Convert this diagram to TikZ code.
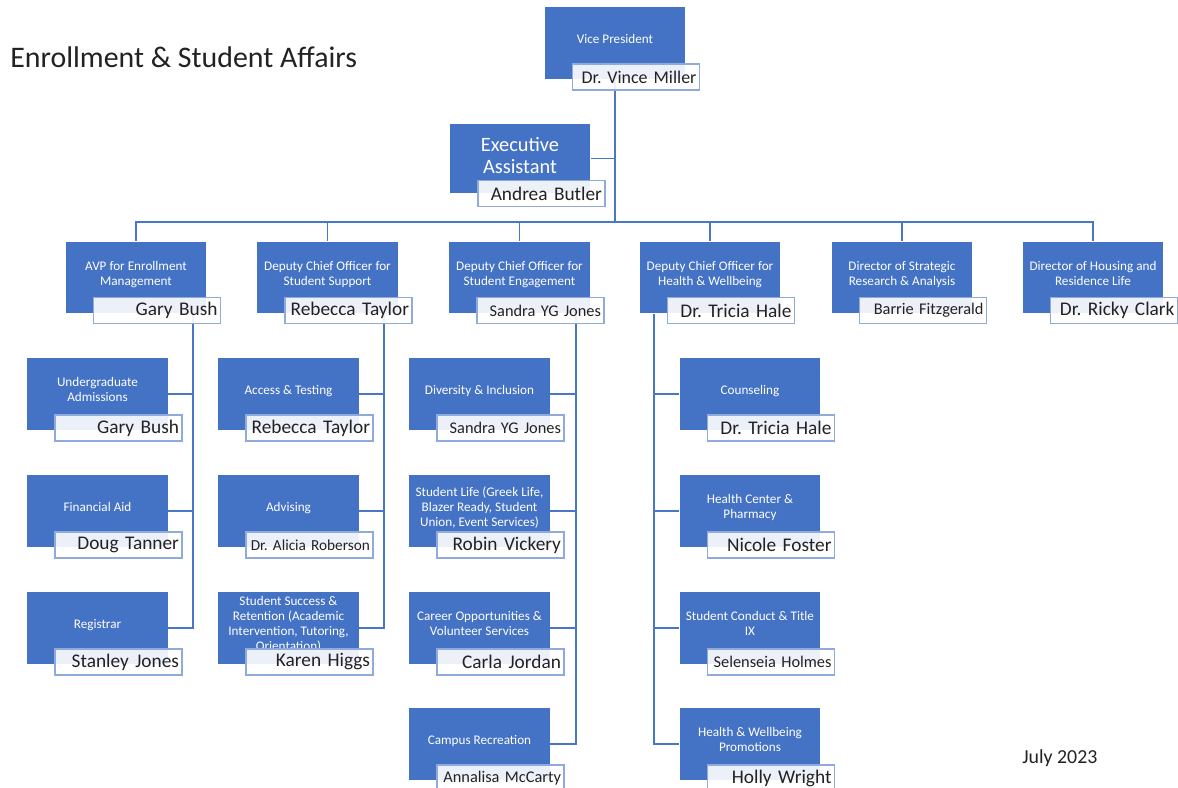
\documentclass[tikz,border=0pt]{standalone}
\usepackage{fontspec}
\setmainfont{Carlito}
\frenchspacing
\usetikzlibrary{positioning,calc,backgrounds}
\definecolor{unitblue}{HTML}{4472C4}
\definecolor{edgeblue}{HTML}{8FAADC}
\definecolor{lineblue}{HTML}{4A76C6}
\definecolor{inkgray}{HTML}{222222}

\begin{document}
\begin{tikzpicture}[x=0.02cm, y=-0.02cm,
    every node/.style = {inner sep=0pt},
    unit/.style = {fill=unitblue, text=white, minimum width=2.82cm, minimum height=1.44cm, align=center, font=\fontsize{7.5}{8.5}\selectfont, text depth=5pt},
    person/.style = {draw=edgeblue, line width=0.8pt, fill=white, fill opacity=0.9, text opacity=1, text=inkgray, minimum width=2.54cm, minimum height=0.52cm, text width=2.42cm, align=right, font=\fontsize{11}{12}\selectfont},
    smallname/.style = {font=\fontsize{9.3}{10}\selectfont},
    midname/.style = {font=\fontsize{10.2}{11}\selectfont},
    link/.style = {draw=lineblue, line width=0.8pt}
    ]
    \useasboundingbox (0,0) rectangle (1178,788);

    \node[anchor=west, text=inkgray, font=\fontsize{17}{20}\selectfont] (title) at (10,57) {Enrollment \& Student Affairs};
    \node[anchor=west, text=inkgray, font=\fontsize{11.3}{13}\selectfont] (date) at (1022,758) {July 2023};

    % top
    \node[unit] (vp) at (615,43) {Vice President};
    \node[person, midname] (vp-n) at ([shift={(21,34)}]vp.center) {Dr. Vince Miller};
    \node[unit, minimum height=1.38cm, text depth=4pt, font=\fontsize{11.6}{12.5}\selectfont] (ea) at (520,158.5) {Executive\\Assistant};
    \node[person] (ea-n) at ([shift={(21.5,35)}]ea.center) {Andrea Butler};

    % second row
    \node[unit] (avp) at (136,277.5) {AVP for Enrollment\\Management};
    \node[person] (avp-n) at ([shift={(21,33)}]avp.center) {Gary Bush};
    \node[unit] (support) at (327.5,277.5) {Deputy Chief Officer for\\Student Support};
    \node[person] (support-n) at ([shift={(21,33)}]support.center) {Rebecca Taylor};
    \node[unit] (engage) at (519.5,277.5) {Deputy Chief Officer for\\Student Engagement};
    \node[person, smallname] (engage-n) at ([shift={(21,33)}]engage.center) {Sandra YG Jones};
    \node[unit] (health) at (710,277.5) {Deputy Chief Officer for\\Health \& Wellbeing};
    \node[person] (health-n) at ([shift={(21,33)}]health.center) {Dr. Tricia Hale};
    \node[unit] (research) at (902,277.5) {Director of Strategic\\Research \& Analysis};
    \node[person, smallname] (research-n) at ([shift={(21,33)}]research.center) {Barrie Fitzgerald};
    \node[unit] (housing) at (1093,277.5) {Director of Housing and\\Residence Life};
    \node[person] (housing-n) at ([shift={(21,33)}]housing.center) {Dr. Ricky Clark};

    % enrollment
    \node[unit] (ugrad) at (97.5,394) {Undergraduate\\Admissions};
    \node[person] (ugrad-n) at ([shift={(21,34)}]ugrad.center) {Gary Bush};
    \node[unit] (finaid) at (97.5,511) {Financial Aid};
    \node[person] (finaid-n) at ([shift={(21,34)}]finaid.center) {Doug Tanner};
    \node[unit] (registrar) at (97.5,628) {Registrar};
    \node[person] (registrar-n) at ([shift={(21,34)}]registrar.center) {Stanley Jones};

    % student support
    \node[unit] (access) at (288.5,394) {Access \& Testing};
    \node[person] (access-n) at ([shift={(21,34)}]access.center) {Rebecca Taylor};
    \node[unit] (advising) at (288.5,511) {Advising};
    \node[person, font=\fontsize{8.7}{10}\selectfont] (advising-n) at ([shift={(21,34)}]advising.center) {Dr. Alicia Roberson};
    \node[unit] (success) at (288.5,628) {Student Success \&\\Retention (Academic\\Intervention, Tutoring,\\Orientation)};
    \node[person] (success-n) at ([shift={(21,34)}]success.center) {Karen Higgs};

    % student engagement
    \node[unit] (diversity) at (479.5,394) {Diversity \& Inclusion};
    \node[person, smallname] (diversity-n) at ([shift={(21,34)}]diversity.center) {Sandra YG Jones};
    \node[unit] (stulife) at (479.5,511) {Student Life (Greek Life,\\Blazer Ready, Student\\Union, Event Services)};
    \node[person] (stulife-n) at ([shift={(21,34)}]stulife.center) {Robin Vickery};
    \node[unit] (career) at (479.5,628) {Career Opportunities \&\\Volunteer Services};
    \node[person] (career-n) at ([shift={(21,34)}]career.center) {Carla Jordan};
    \node[unit] (recreation) at (479.5,744) {Campus Recreation};
    \node[person, smallname] (recreation-n) at ([shift={(21,34)}]recreation.center) {Annalisa McCarty};

    % health and wellbeing
    \node[unit] (counsel) at (750,394) {Counseling};
    \node[person] (counsel-n) at ([shift={(21,34)}]counsel.center) {Dr. Tricia Hale};
    \node[unit] (clinic) at (750,511) {Health Center \&\\Pharmacy};
    \node[person] (clinic-n) at ([shift={(21,34)}]clinic.center) {Nicole Foster};
    \node[unit] (conduct) at (750,628) {Student Conduct \& Title\\IX};
    \node[person, smallname] (conduct-n) at ([shift={(21,34)}]conduct.center) {Selenseia Holmes};
    \node[unit] (promo) at (750,744) {Health \& Wellbeing\\Promotions};
    \node[person] (promo-n) at ([shift={(21,34)}]promo.center) {Holly Wright};

    \begin{scope}[on background layer]
    \coordinate (bus) at (615,222);
    \draw[link] (vp.south) -- (bus);
    \draw[link] (ea.east) -- (ea.east -| vp.south);
    \draw[link] (avp.north) |- (bus) -| (housing.north);
    \foreach \n in {support,engage,health,research}
        \draw[link] (\n.north) -- (\n.north |- bus);
    \foreach \c in {ugrad,finaid,registrar}
        \draw[link] ([xshift=1.14cm]avp.south) |- (\c.east);
    \foreach \c in {access,advising,success}
        \draw[link] ([xshift=1.13cm]support.south) |- (\c.east);
    \foreach \c in {diversity,stulife,career,recreation}
        \draw[link] ([xshift=1.13cm]engage.south) |- (\c.east);
    \foreach \c in {counsel,clinic,conduct,promo}
        \draw[link] ([xshift=-1.12cm]health.south) |- (\c.west);
    \end{scope}
\end{tikzpicture}
\end{document}
